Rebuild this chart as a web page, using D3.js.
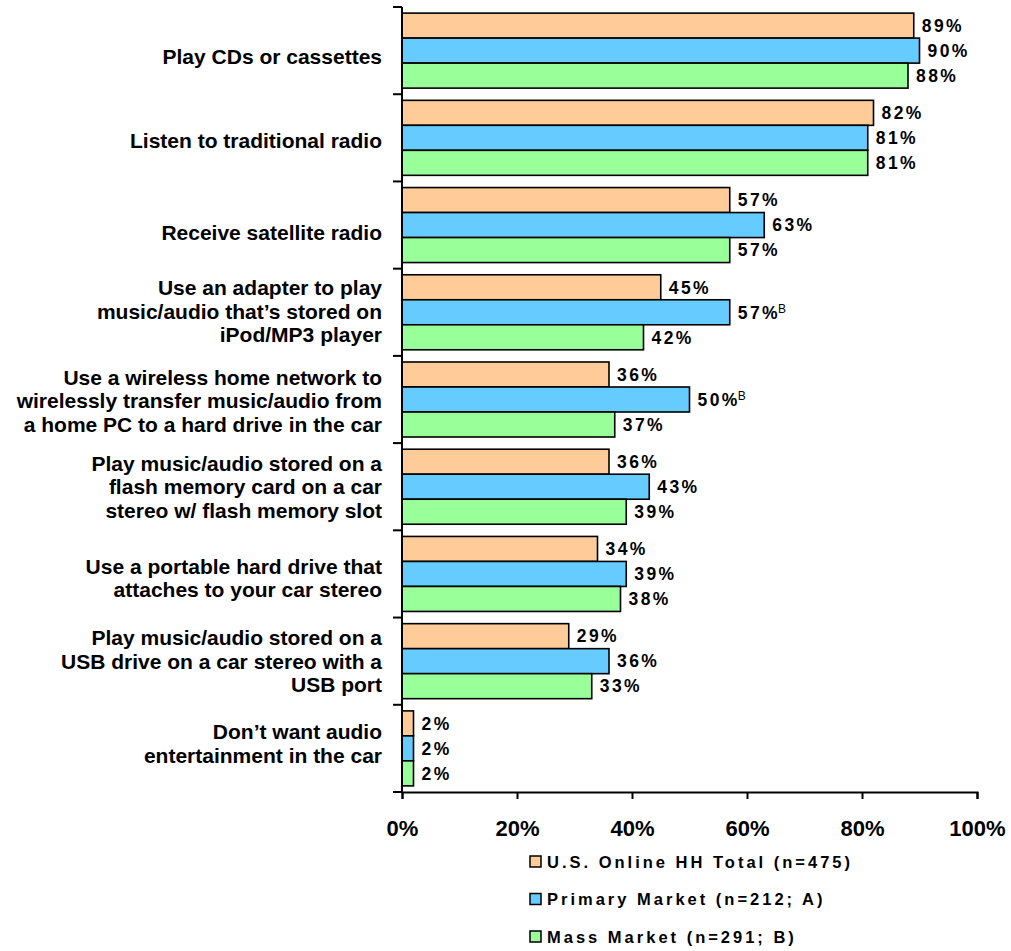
<!DOCTYPE html>
<html>
<head>
<meta charset="utf-8">
<script src="https://cdn.jsdelivr.net/npm/d3@7"></script>
<style>
  body { margin: 0; background: #fff; }
  svg { display: block; font-family: "Liberation Sans", Arial, sans-serif; }
</style>
</head>
<body>
<svg id="chart" width="1011" height="951"></svg>
<script>
// Survey answers: in-car audio activities of interest
const categories = [
  ["Play CDs or cassettes"],
  ["Listen to traditional radio"],
  ["Receive satellite radio"],
  ["Use an adapter to play", "music/audio that\u2019s stored on", "iPod/MP3 player"],
  ["Use a wireless home network to", "wirelessly transfer music/audio from", "a home PC to a hard drive in the car"],
  ["Play music/audio stored on a", "flash memory card on a car", "stereo w/ flash memory slot"],
  ["Use a portable hard drive that", "attaches to your car stereo"],
  ["Play music/audio stored on a", "USB drive on a car stereo with a", "USB port"],
  ["Don\u2019t want audio", "entertainment in the car"]
];
const seriesNames = ["U.S. Online HH Total (n=475)", "Primary Market (n=212; A)", "Mass Market (n=291; B)"];
const totalValues   = [89, 82, 57, 45, 36, 36, 34, 29, 2];
const primaryValues = [90, 81, 63, 57, 50, 43, 39, 36, 2];
const massValues    = [88, 81, 57, 42, 37, 39, 38, 33, 2];
// significance markers shown after the Primary Market value
const primaryNotes  = ["", "", "", "B", "B", "", "", "", ""];
const tickValues = [0, 20, 40, 60, 80, 100];
const colors = ["#FFCC99", "#66CCFF", "#99FF99"];

const series = [totalValues, primaryValues, massValues];

(function draw() {
  const svg = d3.select("#chart");
  const plotLeft = 402, plotRight = 977, plotTop = 7, plotBottom = 792;

  // small vertical shifts of the category text blocks (layout only)
  const labelShift = [6, 3, 7, -1, 1, 0, 4, 0, -5];

  const x = d3.scaleLinear().domain([0, 100]).range([plotLeft, plotRight]);
  const y = d3.scaleBand().domain(d3.range(categories.length))
    .range([plotTop, plotBottom]).paddingInner(0.14).paddingOuter(0.07);
  const inner = d3.scaleBand().domain(d3.range(series.length)).range([0, y.bandwidth()]);

  // bars and value labels
  series.forEach((vals, s) => {
    svg.append("g").selectAll("rect").data(vals).join("rect")
      .attr("x", x(0))
      .attr("y", (d, i) => y(i) + inner(s))
      .attr("width", d => x(d) - x(0))
      .attr("height", inner.bandwidth())
      .attr("fill", colors[s])
      .attr("stroke", "#000")
      .attr("stroke-width", 1.6);

    const lab = svg.append("g").selectAll("text").data(vals).join("text")
      .attr("x", d => x(d) + 8)
      .attr("y", (d, i) => y(i) + inner(s) + inner.bandwidth() / 2)
      .attr("dy", "0.36em")
      .attr("font-size", 17.5)
      .attr("font-weight", "bold")
      .attr("letter-spacing", 2.4)
      .text(d => d + "%");
    if (s === 1) {
      lab.append("tspan")
        .attr("font-size", 12)
        .attr("font-weight", "normal")
        .attr("letter-spacing", 0)
        .attr("dx", -2)
        .attr("dy", "-0.5em")
        .text((d, i) => primaryNotes[i]);
    }
  });

  // category labels
  const step = (plotBottom - plotTop) / categories.length;
  categories.forEach((lines, i) => {
    const cy = plotTop + step * (i + 0.5) + labelShift[i];
    const lh = 23.5;
    const t = svg.append("text")
      .attr("text-anchor", "end")
      .attr("font-size", 21)
      .attr("font-weight", "bold");
    lines.forEach((ln, j) => {
      t.append("tspan")
        .attr("x", 382)
        .attr("y", cy + (j - (lines.length - 1) / 2) * lh)
        .attr("dy", "0.36em")
        .text(ln);
    });
  });

  // left axis with ticks at group boundaries
  const yLine = svg.append("g").attr("stroke", "#000").attr("stroke-width", 2);
  yLine.append("line").attr("x1", plotLeft).attr("x2", plotLeft).attr("y1", plotTop).attr("y2", plotBottom);
  d3.range(categories.length + 1).forEach(k => {
    const yy = plotTop + step * k;
    yLine.append("line").attr("x1", plotLeft - 9).attr("x2", plotLeft).attr("y1", yy).attr("y2", yy);
  });

  // bottom axis
  const xAxis = svg.append("g")
    .attr("transform", `translate(0,${plotBottom})`)
    .call(d3.axisBottom(x).tickValues(tickValues).tickSize(7).tickFormat(d => d + "%"));
  xAxis.select(".domain").attr("stroke", "#000").attr("stroke-width", 2);
  xAxis.selectAll(".tick line").attr("stroke", "#000").attr("stroke-width", 2);
  xAxis.selectAll(".tick text")
    .attr("font-family", "Liberation Sans, Arial, sans-serif")
    .attr("font-size", 22)
    .attr("font-weight", "bold")
    .attr("fill", "#000")
    .attr("dy", "1.55em");

  // legend
  const legend = svg.append("g");
  seriesNames.forEach((name, i) => {
    const ly = 862 + i * 37.5;
    legend.append("rect")
      .attr("x", 530).attr("y", ly - 6)
      .attr("width", 11).attr("height", 11)
      .attr("fill", colors[i]).attr("stroke", "#000").attr("stroke-width", 1.5);
    legend.append("text")
      .attr("x", 547).attr("y", ly)
      .attr("dy", "0.36em")
      .attr("font-size", 16.5)
      .attr("font-weight", "bold")
      .attr("letter-spacing", 3)
      .text(name);
  });
})();
</script>
</body>
</html>
